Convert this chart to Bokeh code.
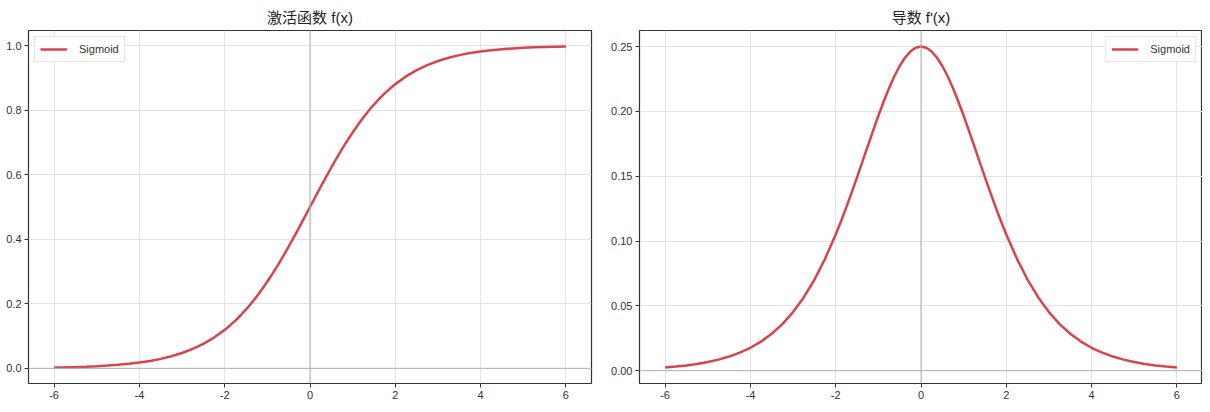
from bokeh.plotting import figure
from bokeh.layouts import row
from bokeh.models import FixedTicker, Span, Legend, LegendItem, NumeralTickFormatter
from bokeh.embed import file_html
from bokeh.resources import INLINE

# ---- data ----
x_vals = [-6.0, -5.75, -5.5, -5.25, -5.0, -4.75, -4.5, -4.25, -4.0, -3.75, -3.5, -3.25,
          -3.0, -2.75, -2.5, -2.25,
          -2.0, -1.875, -1.75, -1.625, -1.5, -1.375, -1.25, -1.125, -1.0, -0.875, -0.75,
          -0.625, -0.5, -0.375, -0.25, -0.125, 0.0, 0.125, 0.25, 0.375, 0.5, 0.625, 0.75,
          0.875, 1.0, 1.125, 1.25, 1.375, 1.5, 1.625, 1.75, 1.875, 2.0,
          2.25, 2.5, 2.75, 3.0, 3.25, 3.5, 3.75, 4.0, 4.25, 4.5, 4.75, 5.0, 5.25, 5.5,
          5.75, 6.0]
sigmoid_vals = [0.00247, 0.00317, 0.00407, 0.00521, 0.00669, 0.00858, 0.01099, 0.01406,
                0.01799, 0.02298, 0.02931, 0.03733, 0.04743, 0.06009, 0.07586, 0.09535,
                0.11920, 0.13296, 0.14805, 0.16452, 0.18243, 0.20181, 0.22270, 0.24505,
                0.26894, 0.29421, 0.32082, 0.34865, 0.37754, 0.40733, 0.43782, 0.46879,
                0.50000, 0.53121, 0.56218, 0.59267, 0.62246, 0.65135, 0.67918, 0.70579,
                0.73106, 0.75495, 0.77730, 0.79819, 0.81757, 0.83548, 0.85195, 0.86704,
                0.88080,
                0.90465, 0.92414, 0.93991, 0.95257, 0.96267, 0.97069, 0.97702, 0.98201,
                0.98594, 0.98901, 0.99142, 0.99331, 0.99479, 0.99593, 0.99683, 0.99753]
deriv_vals = [0.00247, 0.00316, 0.00405, 0.00518, 0.00665, 0.00851, 0.01087, 0.01386,
              0.01766, 0.02245, 0.02845, 0.03594, 0.04518, 0.05648, 0.07010, 0.08626,
              0.10499, 0.11528, 0.12613, 0.13745, 0.14915, 0.16108, 0.17311, 0.18500,
              0.19661, 0.20765, 0.21789, 0.22709, 0.23500, 0.24141, 0.24613, 0.24903,
              0.25000, 0.24903, 0.24613, 0.24141, 0.23500, 0.22709, 0.21789, 0.20765,
              0.19661, 0.18500, 0.17311, 0.16108, 0.14915, 0.13745, 0.12613, 0.11528,
              0.10499,
              0.08626, 0.07010, 0.05648, 0.04518, 0.03594, 0.02845, 0.02245, 0.01766,
              0.01386, 0.01087, 0.00851, 0.00665, 0.00518, 0.00405, 0.00316, 0.00247]
x_ticks = [-6, -4, -2, 0, 2, 4, 6]
y_ticks_left = [0.0, 0.2, 0.4, 0.6, 0.8, 1.0]
y_ticks_right = [0.0, 0.05, 0.10, 0.15, 0.20, 0.25]
series_name = "Sigmoid"
titles = ["激活函数 f(x)", "导数 f'(x)"]

LINE_COLOR = "#d6454c"
TXT = "#333333"
FONT = "Liberation Sans, Noto Sans CJK SC"


def make_fig(title, yvals, yticks, yfmt, yrange, frame_w, border_left, border_right, legend_loc):
    p = figure(output_backend="svg", toolbar_location=None,
               frame_width=frame_w, frame_height=353,
               x_range=(-6.6, 6.6), y_range=yrange,
               min_border_left=border_left, min_border_right=border_right,
               min_border_top=30, min_border_bottom=0,
               title=title)
    p.background_fill_color = "white"
    p.border_fill_color = "white"
    p.outline_line_color = "#333333"
    p.outline_line_width = 1.2
    p.outline_line_alpha = 1.0

    p.title.text_font = FONT
    p.title.text_font_size = "15px"
    p.title.text_font_style = "normal"
    p.title.text_color = "#222222"
    p.title.align = "center"
    p.title.standoff = 10

    for ax in (p.xaxis[0], p.yaxis[0]):
        ax.axis_line_color = None
        ax.major_tick_out = 4
        ax.major_tick_in = 0
        ax.minor_tick_out = 0
        ax.minor_tick_in = 0
        ax.major_tick_line_color = TXT
        ax.major_label_text_font = FONT
        ax.major_label_text_font_size = "11px"
        ax.major_label_text_color = TXT
        ax.major_label_standoff = 3
    p.xaxis.ticker = FixedTicker(ticks=x_ticks)
    p.xaxis.major_label_overrides = {t: str(t) for t in x_ticks}
    p.yaxis.ticker = FixedTicker(ticks=yticks)
    p.yaxis.formatter = NumeralTickFormatter(format=yfmt)

    p.grid.grid_line_color = "#e3e3e3"
    p.grid.grid_line_width = 1

    p.add_layout(Span(location=0, dimension="width", line_color="#b0b0b0", line_width=1))
    p.add_layout(Span(location=0, dimension="height", line_color="#b0b0b0", line_width=1))

    r = p.line(x_vals, yvals, line_color=LINE_COLOR, line_width=2.5)

    leg = Legend(items=[LegendItem(label=series_name, renderers=[r])], location=legend_loc)
    leg.label_text_font = FONT
    leg.label_text_font_size = "11px"
    leg.label_text_color = TXT
    leg.border_line_color = "#cccccc"
    leg.border_line_width = 1
    leg.background_fill_alpha = 0.9
    leg.glyph_width = 27
    leg.glyph_height = 14
    leg.label_height = 14
    leg.label_standoff = 12
    leg.padding = 5
    leg.margin = 6
    leg.spacing = 0
    p.add_layout(leg, "center")
    return p


p1 = make_fig(titles[0], sigmoid_vals, y_ticks_left, "0.0", (-0.047, 1.047),
              563, 28, 10, "top_left")
p2 = make_fig(titles[1], deriv_vals, y_ticks_right, "0.00", (-0.0099, 0.2624),
              563, 38, 0, "top_right")

layout = row(p1, p2)
open("out.html", "w").write(file_html(layout, INLINE))
